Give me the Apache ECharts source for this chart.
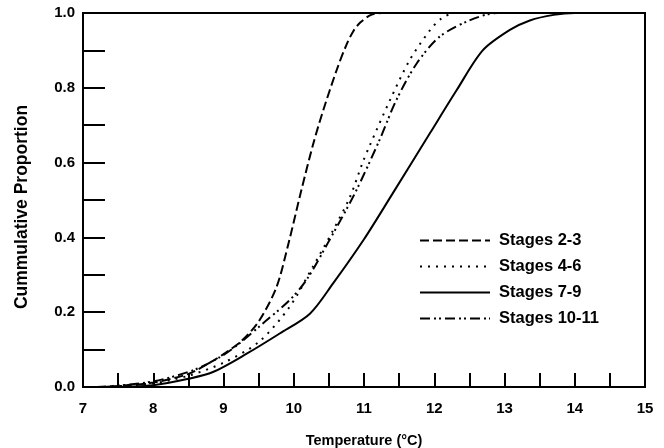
<!DOCTYPE html>
<html>
<head>
<meta charset="utf-8">
<script src="https://cdn.jsdelivr.net/npm/echarts@6/dist/echarts.min.js"></script>
<style>
html,body{margin:0;padding:0;background:#fff;}
#chart{width:664px;height:448px;}
</style>
</head>
<body>
<div id="chart"></div>
<script>
// Data
const seriesNames = ['Stages 2-3', 'Stages 4-6', 'Stages 7-9', 'Stages 10-11'];

const stage23X = [7.2, 7.5, 8.0, 8.5, 8.85, 9.0, 9.25, 9.5, 9.75, 9.92, 10.1, 10.28, 10.42, 10.61, 10.75, 10.85, 10.95, 11.1, 11.25, 15.0];
const stage23Y = [0.0, 0.003, 0.012, 0.035, 0.07, 0.088, 0.122, 0.175, 0.265, 0.38, 0.52, 0.652, 0.74, 0.847, 0.915, 0.952, 0.975, 0.995, 1.0, 1.0];

const stage46X = [7.3, 8.0, 8.5, 9.0, 9.5, 9.94, 10.27, 10.56, 10.8, 10.98, 11.08, 11.37, 11.65, 11.94, 12.1, 12.3, 15.0];
const stage46Y = [0.0, 0.01, 0.03, 0.065, 0.12, 0.214, 0.321, 0.419, 0.508, 0.6, 0.645, 0.767, 0.874, 0.954, 0.985, 1.0, 1.0];

const stage79X = [7.3, 8.0, 8.5, 8.85, 9.33, 9.8, 10.23, 10.56, 11.0, 11.4, 11.94, 12.32, 12.69, 13.07, 13.36, 13.7, 14.0, 15.0];
const stage79Y = [0.0, 0.005, 0.022, 0.04, 0.089, 0.143, 0.196, 0.277, 0.395, 0.515, 0.679, 0.794, 0.9, 0.954, 0.98, 0.995, 1.0, 1.0];

const stage1011X = [7.3, 8.0, 8.57, 8.95, 9.23, 9.56, 9.94, 10.18, 10.5, 10.87, 11.22, 11.46, 11.75, 12.08, 12.5, 12.9, 15.0];
const stage1011Y = [0.0, 0.015, 0.045, 0.08, 0.117, 0.17, 0.232, 0.286, 0.39, 0.518, 0.66, 0.767, 0.865, 0.937, 0.98, 1.0, 1.0];

function pairs(xs, ys) { return xs.map((x, i) => [x, ys[i]]); }

const font = 'Liberation Sans, Arial, sans-serif';
const chart = echarts.init(document.getElementById('chart'));

const dashTypes = [[9, 4], [2, 6], 'solid', [10, 4, 2, 3, 2, 4]];
const dataSets = [pairs(stage23X, stage23Y), pairs(stage46X, stage46Y), pairs(stage79X, stage79Y), pairs(stage1011X, stage1011Y)];

chart.setOption({
  animation: false,
  backgroundColor: '#fff',
  grid: { left: 83, right: 19, top: 13, bottom: 61, containLabel: false, outerBoundsMode: 'none',
    show: true, borderColor: '#000', borderWidth: 2, backgroundColor: 'transparent' },
  legend: {
    orient: 'vertical',
    left: 414, top: 227,
    itemWidth: 70, itemHeight: 14, itemGap: 9,
    itemStyle: { opacity: 0 },
    textStyle: { fontFamily: font, fontWeight: 'bold', fontSize: 16.5, color: '#000', padding: [0, 0, 0, 4] },
    data: seriesNames
  },
  xAxis: {
    type: 'value', min: 7, max: 15, interval: 0.5,
    name: 'Temperature (°C)', nameLocation: 'middle', nameGap: 46,
    nameTextStyle: { fontFamily: font, fontWeight: 'bold', fontSize: 14.5, color: '#000' },
    axisLine: { lineStyle: { color: '#000', width: 2 } },
    axisTick: { inside: true, length: 14, lineStyle: { color: '#000', width: 2 } },
    axisLabel: { margin: 14, fontFamily: font, fontWeight: 'bold', fontSize: 15, color: '#000',
      formatter: v => (Math.abs(v - Math.round(v)) < 1e-6 ? String(Math.round(v)) : '') },
    splitLine: { show: false }
  },
  yAxis: {
    type: 'value', min: 0, max: 1, interval: 0.1,
    name: 'Cummulative Proportion', nameLocation: 'middle', nameGap: 52,
    nameTextStyle: { fontFamily: font, fontWeight: 'bold', fontSize: 17.5, color: '#000', padding: [0, 14, 0, 0] },
    axisLine: { lineStyle: { color: '#000', width: 2 } },
    axisTick: { inside: true, length: 22, lineStyle: { color: '#000', width: 2 } },
    axisLabel: { margin: 8, fontFamily: font, fontWeight: 'bold', fontSize: 15, color: '#000',
      formatter: v => (Math.round(v * 10) % 2 === 0 ? v.toFixed(1) : '') },
    splitLine: { show: false }
  },
  series: seriesNames.map((n, i) => ({
    name: n, type: 'line', data: dataSets[i], smooth: 0.3,
    symbol: 'none', showSymbol: false,
    lineStyle: { color: '#000', width: 2, type: dashTypes[i] },
    itemStyle: { color: '#000' }
  }))
});
</script>
</body>
</html>
